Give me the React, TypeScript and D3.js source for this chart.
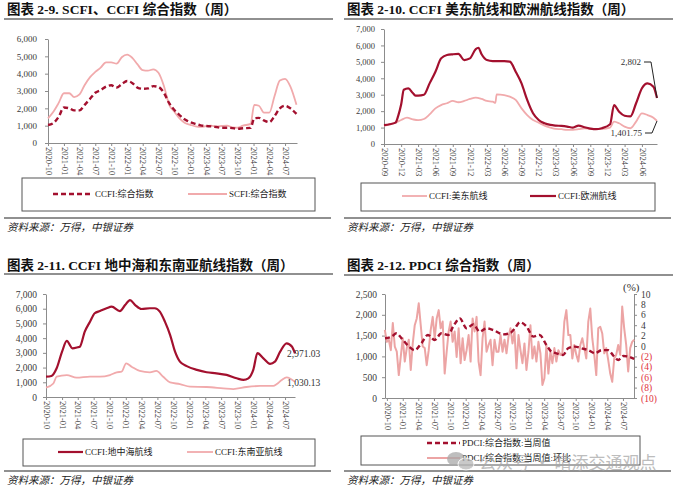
import React, { useEffect, useRef } from 'react';
import * as d3 from 'd3';

// ---- data ----
const ccfiComposite: [string, number][] = [
  ['2020-10-01', 1040], ['2020-11-01', 1150], ['2020-12-01', 1500], ['2021-01-01', 2050], ['2021-02-01', 2000],
  ['2021-03-01', 1880], ['2021-04-01', 1880], ['2021-05-01', 2200], ['2021-06-01', 2550], ['2021-07-01', 2900],
  ['2021-08-01', 3050], ['2021-09-01', 3250], ['2021-10-01', 3330], ['2021-11-01', 3200], ['2021-12-01', 3400],
  ['2022-01-01', 3580], ['2022-02-01', 3450], ['2022-03-01', 3200], ['2022-04-01', 3130], ['2022-05-01', 3150],
  ['2022-06-01', 3280], ['2022-07-01', 3230], ['2022-08-01', 2900], ['2022-09-01', 2300], ['2022-10-01', 1900],
  ['2022-11-01', 1600], ['2022-12-01', 1350], ['2023-01-01', 1200], ['2023-02-01', 1100], ['2023-03-01', 1020],
  ['2023-04-01', 980], ['2023-05-01', 960], ['2023-06-01', 920], ['2023-07-01', 880], ['2023-08-01', 880],
  ['2023-09-01', 860], ['2023-10-01', 820], ['2023-11-01', 850], ['2023-12-15', 870], ['2024-01-05', 1420],
  ['2024-02-01', 1450], ['2024-03-01', 1300], ['2024-04-01', 1200], ['2024-05-01', 1550], ['2024-06-01', 2000],
  ['2024-07-01', 2150], ['2024-08-01', 2000], ['2024-09-05', 1680],
];
const scfiComposite: [string, number][] = [
  ['2020-10-01', 1420], ['2020-11-01', 1800], ['2020-12-01', 2300], ['2021-01-01', 2870], ['2021-02-01', 2870],
  ['2021-03-01', 2650], ['2021-04-01', 2800], ['2021-05-01', 3350], ['2021-06-01', 3800], ['2021-07-01', 4100],
  ['2021-08-01', 4350], ['2021-09-01', 4650], ['2021-10-01', 4650], ['2021-11-01', 4580], ['2021-12-01', 4950],
  ['2022-01-01', 5100], ['2022-02-01', 4900], ['2022-03-01', 4550], ['2022-04-01', 4200], ['2022-05-01', 4170],
  ['2022-06-01', 4250], ['2022-07-01', 4050], ['2022-08-01', 3300], ['2022-09-01', 2200], ['2022-10-01', 1800],
  ['2022-11-01', 1400], ['2022-12-01', 1150], ['2023-01-01', 1050], ['2023-02-01', 960], ['2023-03-01', 930],
  ['2023-04-01', 970], ['2023-05-01', 1000], ['2023-06-01', 950], ['2023-07-01', 980], ['2023-08-01', 1000],
  ['2023-09-01', 900], ['2023-10-01', 880], ['2023-11-01', 1000], ['2023-12-15', 1100], ['2024-01-05', 2200],
  ['2024-02-01', 2150], ['2024-03-01', 1750], ['2024-04-01', 1750], ['2024-05-01', 2700], ['2024-06-01', 3600],
  ['2024-07-01', 3700], ['2024-08-01', 3250], ['2024-09-05', 2200],
];

const ccfiUsEast: [string, number][] = [
  ['2020-09-01', 1100], ['2020-10-01', 1200], ['2020-11-01', 1300], ['2020-12-01', 1460], ['2021-01-01', 1600],
  ['2021-02-01', 1500], ['2021-03-01', 1450], ['2021-04-01', 1520], ['2021-05-01', 1800], ['2021-06-01', 2170],
  ['2021-07-01', 2370], ['2021-08-01', 2480], ['2021-09-01', 2620], ['2021-10-01', 2540], ['2021-11-01', 2620],
  ['2021-12-01', 2740], ['2022-01-01', 2820], ['2022-02-01', 2740], ['2022-03-01', 2620], ['2022-04-01', 2580],
  ['2022-04-15', 2500], ['2022-04-22', 3020], ['2022-06-01', 2980], ['2022-07-01', 2880], ['2022-08-01', 2680],
  ['2022-09-01', 2170], ['2022-10-01', 1760], ['2022-11-01', 1460], ['2022-12-01', 1300], ['2023-01-01', 1120],
  ['2023-02-01', 1000], ['2023-03-01', 920], ['2023-04-01', 900], ['2023-05-01', 860], ['2023-06-01', 860],
  ['2023-07-01', 900], ['2023-08-01', 960], ['2023-09-01', 900], ['2023-10-01', 920], ['2023-11-01', 920],
  ['2023-12-15', 1000], ['2024-01-05', 1360], ['2024-02-01', 1260], ['2024-03-01', 1060], ['2024-04-01', 960],
  ['2024-05-01', 1360], ['2024-06-01', 1870], ['2024-07-01', 1760], ['2024-08-01', 1600], ['2024-08-20', 1401.75],
];
const ccfiEurope: [string, number][] = [
  ['2020-09-01', 1150], ['2020-10-01', 1200], ['2020-11-01', 1300], ['2020-11-15', 1700], ['2020-12-01', 2400],
  ['2020-12-15', 3300], ['2021-01-08', 3390], ['2021-02-01', 3100], ['2021-02-15', 2950], ['2021-03-01', 2950],
  ['2021-04-01', 3000], ['2021-05-01', 3690], ['2021-06-01', 4400], ['2021-07-01', 5210], ['2021-08-01', 5420],
  ['2021-09-01', 5460], ['2021-10-01', 5480], ['2021-11-01', 5110], ['2021-12-01', 5210], ['2022-01-01', 5780],
  ['2022-01-15', 5860], ['2022-02-01', 5460], ['2022-03-01', 5110], ['2022-04-01', 5050], ['2022-05-01', 5050],
  ['2022-06-01', 5050], ['2022-07-01', 5010], ['2022-08-01', 4400], ['2022-09-01', 3690], ['2022-10-01', 2680],
  ['2022-11-01', 1870], ['2022-12-01', 1460], ['2023-01-01', 1260], ['2023-02-01', 1160], ['2023-03-01', 1120],
  ['2023-04-01', 1100], ['2023-05-01', 1060], ['2023-06-01', 1000], ['2023-07-01', 1120], ['2023-08-01', 1020],
  ['2023-09-01', 940], ['2023-10-01', 900], ['2023-11-01', 960], ['2023-12-15', 1200], ['2024-01-05', 2370],
  ['2024-02-01', 1960], ['2024-03-01', 1720], ['2024-04-01', 1680], ['2024-05-01', 2480], ['2024-06-01', 3390],
  ['2024-07-01', 3690], ['2024-08-01', 3490], ['2024-08-20', 2802],
];

const ccfiMed: [string, number][] = [
  ['2020-10-01', 1380], ['2020-11-01', 1430], ['2020-12-01', 1950], ['2021-01-01', 3080], ['2021-01-28', 3810],
  ['2021-03-01', 3310], ['2021-04-01', 3380], ['2021-04-13', 3420], ['2021-05-11', 4440], ['2021-06-10', 5120],
  ['2021-07-07', 5690], ['2021-08-06', 5840], ['2021-09-13', 6030], ['2021-10-12', 6140], ['2021-11-28', 5840],
  ['2021-12-28', 6250], ['2022-01-25', 6590], ['2022-02-24', 6250], ['2022-04-01', 5980], ['2022-05-19', 6030],
  ['2022-06-16', 6030], ['2022-07-15', 5800], ['2022-08-13', 5120], ['2022-09-12', 4210], ['2022-10-10', 3080],
  ['2022-11-07', 2400], ['2022-12-16', 2100], ['2023-02-12', 1840], ['2023-04-09', 1680], ['2023-06-04', 1610],
  ['2023-08-01', 1500], ['2023-09-28', 1270], ['2023-11-06', 1160], ['2023-12-04', 1270], ['2024-01-01', 1840],
  ['2024-01-25', 2980], ['2024-02-28', 2630], ['2024-04-06', 2250], ['2024-05-04', 2400], ['2024-06-03', 3080],
  ['2024-07-10', 3650], ['2024-08-09', 3430], ['2024-08-27', 2971.03],
];
const ccfiSeAsia: [string, number][] = [
  ['2020-10-01', 630], ['2020-11-12', 920], ['2020-12-01', 1380], ['2021-01-28', 1490], ['2021-03-25', 1310],
  ['2021-06-10', 1380], ['2021-08-06', 1380], ['2021-10-02', 1490], ['2021-11-10', 1680], ['2021-12-08', 1720],
  ['2022-01-03', 2290], ['2022-02-03', 2060], ['2022-03-22', 1770], ['2022-05-19', 1680], ['2022-06-25', 1770],
  ['2022-08-03', 1380], ['2022-09-12', 990], ['2022-11-07', 880], ['2023-01-04', 700], ['2023-04-09', 680],
  ['2023-07-13', 590], ['2023-09-09', 540], ['2023-11-23', 680], ['2024-02-09', 750], ['2024-04-25', 750],
  ['2024-05-13', 860], ['2024-06-12', 1160], ['2024-07-10', 1340], ['2024-08-27', 1030.13],
];

const pdciWeekly: [string, number][] = [
  ['2020-09-20', 1435], ['2020-10-28', 1475], ['2020-11-26', 1555], ['2020-12-25', 1435], ['2021-02-02', 1250],
  ['2021-03-11', 1150], ['2021-04-19', 1315], ['2021-05-27', 1515], ['2021-07-05', 1395], ['2021-08-13', 1555],
  ['2021-09-21', 1515], ['2021-10-20', 1715], ['2021-11-28', 1915], ['2022-01-06', 1675], ['2022-02-14', 1770],
  ['2022-03-23', 1595], ['2022-05-01', 1675], ['2022-06-09', 1635], ['2022-08-06', 1530], ['2022-09-14', 1555],
  ['2022-10-13', 1675], ['2022-11-12', 1820], ['2022-12-20', 1715], ['2023-01-28', 1475], ['2023-03-06', 1515],
  ['2023-04-14', 1275], ['2023-05-13', 1115], ['2023-06-11', 1075], ['2023-07-20', 1035], ['2023-08-18', 1195],
  ['2023-09-26', 1235], ['2023-11-04', 1195], ['2023-12-13', 1150], ['2024-01-21', 1075], ['2024-02-28', 1150],
  ['2024-04-07', 1150], ['2024-05-06', 1020], ['2024-06-04', 915], ['2024-07-03', 1010], ['2024-08-02', 995],
  ['2024-09-04', 940],
];
// week-on-week change (%), roughly every 11-12 days from 2020-09-19
const pdciWowValues = [
  3.1, 0.8, 1.2, -0.8, 4.4, -0.1, -1.1, -5.6, -2.0, 1.5,
  -3.0, -0.4, 1.2, -4.6, 0.5, 4.0, 5.3, 8.2, 4.0, -0.1,
  -0.4, -3.7, -0.8, 3.1, 5.6, 1.5, 5.3, 6.9, 3.4, 4.7,
  -5.3, -1.1, 2.8, 4.7, 0.8, 2.8, -2.1, 3.4, -3.3, 1.5,
  -2.7, -0.8, 2.1, -3.0, 5.3, 2.8, 5.6, -3.0, -5.6, 1.5,
  4.7, -1.1, 0.2, 1.2, -3.7, 1.2, -1.1, -1.1, 2.1, -1.1,
  1.2, -1.4, 1.8, 3.4, 0.5, 2.8, -4.3, 2.1, -0.8, -3.3,
  0.5, -4.6, -1.1, 4.0, -2.4, -0.1, -3.0, 0.8, -1.4, -7.5,
  -6.2, 0.2, -5.3, -1.1, -3.3, -0.4, -3.0, -0.8, -1.7, -1.4,
  4.7, 6.9, 2.1, 2.1, -2.4, 0.2, -1.7, -3.0, 0.2, 1.5,
  -0.4, -2.4, 4.7, 7.2, 1.5, -1.7, -5.6, 3.4, 3.7, 2.4,
  -1.4, -0.4, -2.7, -5.3, -6.9, -2.4, -1.7, 0.2, -1.7, 7.6,
  3.4, 0.2, -4.9, -0.4, 0.8, 1.2,
];
const pdciWowStart = '2020-09-19';
const pdciWowEnd = '2024-09-04';

const ticksOct = ['2020-10', '2021-01', '2021-04', '2021-07', '2021-10', '2022-01', '2022-04', '2022-07',
  '2022-10', '2023-01', '2023-04', '2023-07', '2023-10', '2024-01', '2024-04', '2024-07'];
const ticksSep = ['2020-09', '2020-12', '2021-03', '2021-06', '2021-09', '2021-12', '2022-03', '2022-06',
  '2022-09', '2022-12', '2023-03', '2023-06', '2023-09', '2023-12', '2024-03', '2024-06'];

const titles = [
  '图表 2-9. SCFI、CCFI 综合指数（周）',
  '图表 2-10. CCFI 美东航线和欧洲航线指数（周）',
  '图表 2-11. CCFI 地中海和东南亚航线指数（周）',
  '图表 2-12. PDCI 综合指数（周）',
];
const source = '资料来源：万得，中银证券';

// ---- styles ----
const DARK = '#a3102e';
const PINK = '#f1aaac';
const AXIS = '#8c8c8c';
const TXT = '#3a3a3a';
const SERIF = '"Liberation Serif", "Times New Roman", "Noto Sans CJK SC", serif';

const parse = d3.timeParse('%Y-%m-%d');
const parseM = d3.timeParse('%Y-%m');
const rows = (r: [string, number][]) => r.map(([d, v]) => ({ date: parse(d) as Date, value: v }));

type Sel = d3.Selection<any, any, any, any>;

function frame(svg: Sel, x0: number, title: string, titleY: number, ruleY: number, footY: number, srcY: number) {
  svg.append('text').attr('x', x0 + 7).attr('y', titleY).attr('font-family', SERIF).attr('font-weight', 'bold')
    .attr('font-size', 13.5).attr('fill', '#111').text(title);
  svg.append('line').attr('x1', x0 + 4).attr('x2', x0 + 333).attr('y1', ruleY).attr('y2', ruleY)
    .attr('stroke', '#222').attr('stroke-width', 1.2);
  svg.append('line').attr('x1', x0 + 4).attr('x2', x0 + 331).attr('y1', footY).attr('y2', footY)
    .attr('stroke', '#222').attr('stroke-width', 1.2);
  svg.append('text').attr('x', x0 + 7).attr('y', srcY).attr('font-family', SERIF).attr('font-style', 'italic')
    .attr('font-size', 10.5).attr('fill', '#222').text(source);
}

function yAxis(svg: Sel, y: d3.ScaleLinear<number, number>, x: number, ticks: number[], pad: number, fontSize: number) {
  const g = svg.append('g').attr('transform', `translate(${x},0)`)
    .call(d3.axisLeft(y).tickValues(ticks).tickSize(3).tickSizeOuter(0).tickPadding(pad).tickFormat(d3.format(',') as any));
  g.attr('font-family', SERIF).attr('font-size', fontSize);
  g.select('.domain').attr('stroke', AXIS);
  g.selectAll('.tick line').attr('stroke', AXIS);
  g.selectAll('.tick text').attr('fill', TXT);
}

function xAxis(svg: Sel, x: d3.ScaleTime<number, number>, yPos: number, labels: string[]) {
  const g = svg.append('g').attr('transform', `translate(0,${yPos})`)
    .call(d3.axisBottom(x).tickValues(labels.map(l => parseM(l) as Date)).tickSize(3).tickSizeOuter(0)
      .tickFormat(d3.timeFormat('%Y-%m') as any));
  g.attr('font-family', SERIF).attr('font-size', 8.5);
  g.select('.domain').attr('stroke', AXIS);
  g.selectAll('.tick line').attr('stroke', AXIS);
  g.selectAll('.tick text').attr('fill', TXT).attr('transform', 'rotate(90)').attr('text-anchor', 'start')
    .attr('x', 4).attr('y', 0).attr('dy', '0.33em');
}

function legendBox(svg: Sel, x1: number, x2: number, y1: number, y2: number) {
  svg.append('rect').attr('x', x1).attr('y', y1).attr('width', x2 - x1).attr('height', y2 - y1)
    .attr('fill', 'none').attr('stroke', '#555').attr('stroke-width', 1);
}

function legendItem(svg: Sel, x: number, y: number, len: number, color: string, width: number, dash: string | null, label: string) {
  const l = svg.append('line').attr('x1', x).attr('x2', x + len).attr('y1', y).attr('y2', y)
    .attr('stroke', color).attr('stroke-width', width);
  if (dash) l.attr('stroke-dasharray', dash);
  svg.append('text').attr('x', x + len + 2).attr('y', y).attr('dy', '0.35em').attr('font-family', SERIF)
    .attr('font-size', 9).attr('fill', '#222').text(label);
}

function drawLine(svg: Sel, data: { date: Date; value: number }[], x: any, y: any, color: string, width: number,
  dash: string | null = null, curve: d3.CurveFactory = d3.curveMonotoneX) {
  const line = d3.line<{ date: Date; value: number }>().x(d => x(d.date)).y(d => y(d.value)).curve(curve);
  const p = svg.append('path').datum(data).attr('d', line).attr('fill', 'none').attr('stroke', color)
    .attr('stroke-width', width).attr('stroke-linejoin', 'round');
  if (dash) p.attr('stroke-dasharray', dash);
}

function drawAll(svg: Sel) {
  svg.append('rect').attr('width', 700).attr('height', 497).attr('fill', '#fff');
  const thousands = d3.range(0, 7001, 1000);

  // ---- panel 1 ----
  frame(svg, 0, titles[0], 14, 19, 218, 231);
  {
    const x = d3.scaleTime().domain([parse('2020-10-01') as Date, parse('2024-09-08') as Date]).range([48, 297]);
    const y = d3.scaleLinear().domain([0, 6000]).range([143, 39]);
    yAxis(svg, y, 48, thousands.slice(0, 7), 8, 9);
    xAxis(svg, x, 143, ticksOct);
    drawLine(svg, rows(scfiComposite), x, y, PINK, 1.8);
    drawLine(svg, rows(ccfiComposite), x, y, DARK, 2.4, '5,3');
    legendBox(svg, 22, 315, 178, 211);
    legendItem(svg, 53, 194, 40, DARK, 2.4, '5,3', 'CCFI:综合指数');
    legendItem(svg, 188, 194, 39, PINK, 1.8, null, 'SCFI:综合指数');
  }

  // ---- panel 2 ----
  frame(svg, 340, titles[1], 14, 19, 218, 231);
  {
    const x = d3.scaleTime().domain([parse('2020-09-01') as Date, parse('2024-08-20') as Date]).range([384, 657]);
    const y = d3.scaleLinear().domain([0, 7000]).range([144, 29]);
    yAxis(svg, y, 384, thousands, 6, 8.5);
    xAxis(svg, x, 144, ticksSep);
    const us = rows(ccfiUsEast);
    const eu = rows(ccfiEurope);
    drawLine(svg, us, x, y, PINK, 1.8);
    drawLine(svg, eu, x, y, DARK, 2.2);
    const lu = us[us.length - 1];
    const le = eu[eu.length - 1];
    const note = (label: string, tx: number, ty: number, end: { date: Date; value: number }) => {
      svg.append('text').attr('x', tx).attr('y', ty).attr('dy', '0.35em').attr('text-anchor', 'end')
        .attr('font-family', SERIF).attr('font-size', 9).attr('fill', '#333').text(label);
      svg.append('path').attr('d', `M${tx + 3},${ty}H${tx + 10}L${x(end.date)},${y(end.value)}`)
        .attr('fill', 'none').attr('stroke', '#222').attr('stroke-width', 1);
    };
    note('2,802', 641, 62, le);
    note('1,401.75', 642, 133, lu);
    legendBox(svg, 361, 655, 183, 211);
    legendItem(svg, 402, 196, 25, PINK, 1.8, null, 'CCFI:美东航线');
    legendItem(svg, 530, 196, 26, DARK, 2.2, null, 'CCFI:欧洲航线');
  }

  // ---- panel 3 ----
  frame(svg, 0, titles[2], 270, 274, 471, 484);
  {
    const x = d3.scaleTime().domain([parse('2020-10-01') as Date, parse('2024-08-27') as Date]).range([46, 295]);
    const y = d3.scaleLinear().domain([0, 7000]).range([397, 294]);
    yAxis(svg, y, 46, thousands, 6, 9.5);
    xAxis(svg, x, 397, ticksOct);
    const med = rows(ccfiMed);
    const sea = rows(ccfiSeAsia);
    drawLine(svg, sea, x, y, PINK, 1.8);
    drawLine(svg, med, x, y, DARK, 2.2);
    const lab = (t: string, v: number) => svg.append('text').attr('x', 287).attr('y', y(v)).attr('dy', '0.35em')
      .attr('font-family', SERIF).attr('font-size', 9.5).attr('fill', '#333').text(t);
    lab('2,971.03', med[med.length - 1].value);
    lab('1,030.13', sea[sea.length - 1].value - 80);
    legendBox(svg, 23, 315, 439, 466);
    legendItem(svg, 58, 452, 25, DARK, 2.2, null, 'CCFI:地中海航线');
    legendItem(svg, 187, 452, 26, PINK, 1.8, null, 'CCFI:东南亚航线');
  }

  // ---- panel 4 ----
  frame(svg, 340, titles[3], 270, 275, 471, 484);
  {
    const x = d3.scaleTime().domain([parse('2020-09-20') as Date, parse('2024-09-03') as Date]).range([385, 634]);
    const y = d3.scaleLinear().domain([0, 2500]).range([398, 294]);
    const yr = d3.scaleLinear().domain([-10, 10]).range([398, 294]);
    yAxis(svg, y, 385, d3.range(0, 2501, 500), 5, 9.5);
    xAxis(svg, x, 398, ticksOct);
    const g = svg.append('g').attr('transform', 'translate(634,0)')
      .call(d3.axisRight(yr).tickValues(d3.range(-10, 11, 2)).tickSize(3).tickSizeOuter(0).tickPadding(4)
        .tickFormat((v: any) => (v < 0 ? `(${-v})` : `${v}`)));
    g.attr('font-family', SERIF).attr('font-size', 9.5);
    g.select('.domain').attr('stroke', AXIS);
    g.selectAll('.tick line').attr('stroke', AXIS);
    g.selectAll('.tick text').attr('fill', (v: any) => (v < 0 ? '#e0303a' : TXT));
    svg.append('text').attr('x', 623).attr('y', 291).attr('font-family', SERIF).attr('font-size', 11)
      .attr('fill', '#333').text('(%)');

    const t0 = parse(pdciWowStart) as Date;
    const t1 = parse(pdciWowEnd) as Date;
    const step = (t1.getTime() - t0.getTime()) / (pdciWowValues.length - 1);
    const wow = pdciWowValues.map((v, i) => ({ date: new Date(t0.getTime() + i * step), value: v }));
    drawLine(svg, wow, x, yr, '#eca4a4', 2, null, d3.curveLinear);
    drawLine(svg, rows(pdciWeekly), x, y, DARK, 2.4, '5,3');

    legendBox(svg, 361, 640, 436, 465);
    legendItem(svg, 427, 443, 33, DARK, 2.4, '5,3', 'PDCI:综合指数:当周值');
    legendItem(svg, 427, 458, 33, '#eca4a4', 1.8, null, 'PDCI:综合指数:当周值:环比');

    // watermark
    const wm = svg.append('g').attr('opacity', 0.75);
    wm.append('ellipse').attr('cx', 456).attr('cy', 459).attr('rx', 9).attr('ry', 7).attr('fill', '#a9a9a9');
    wm.append('ellipse').attr('cx', 466).attr('cy', 464).attr('rx', 8).attr('ry', 6).attr('fill', '#b8b8b8')
      .attr('stroke', '#fff').attr('stroke-width', 1);
    wm.append('text').attr('x', 479).attr('y', 469).attr('font-family', '"Noto Sans CJK SC", sans-serif')
      .attr('font-size', 17).attr('fill', '#a8a8a8').text('公众号 · 晴添交通观点');
  }
}

export default function App() {
  const ref = useRef<SVGSVGElement>(null);
  useEffect(() => {
    const svg = d3.select(ref.current);
    svg.selectAll('*').remove();
    drawAll(svg as any);
  }, []);
  return (
    <svg ref={ref} width={700} height={497} style={{ position: 'absolute', left: 0, top: 0, background: '#fff' }} />
  );
}
